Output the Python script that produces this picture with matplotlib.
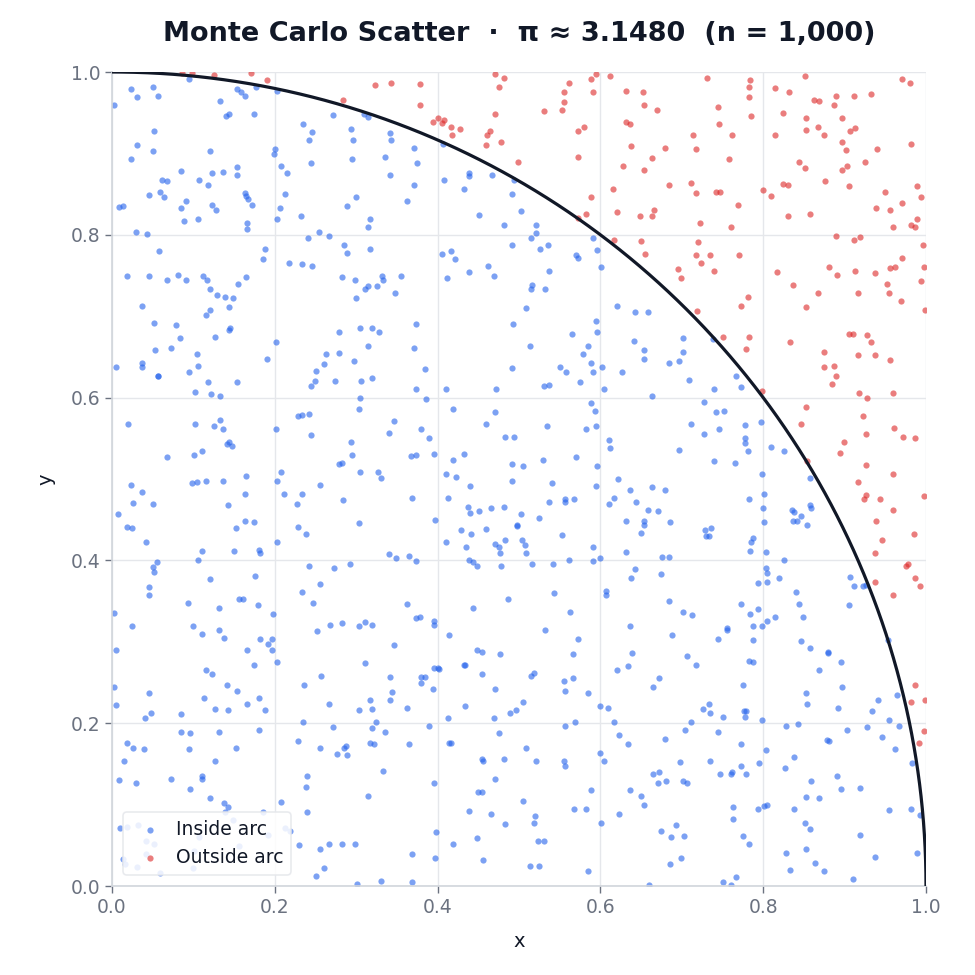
import numpy as np
import matplotlib
matplotlib.use("Agg")
import matplotlib.pyplot as plt

# title / labels
title_text = "Monte Carlo Scatter  \u00b7  \u03c0 \u2248 3.1480  (n = 1,000)"
label_in = "Inside arc"
label_out = "Outside arc"
ticks = [0.0, 0.2, 0.4, 0.6, 0.8, 1.0]

# samples, (x, y)
inside_pts = [
    # top band, y > 0.67
    (0.095,0.991),(0.023,0.979),(0.050,0.982),(0.031,0.969),(0.056,0.971),(0.002,0.959),(0.154,0.979),(0.158,0.976),
    (0.163,0.970),(0.177,0.981),(0.203,0.977),(0.133,0.964),(0.144,0.949),(0.140,0.946),(0.174,0.949),(0.272,0.947),
    (0.309,0.949),(0.314,0.945),(0.052,0.928),(0.235,0.936),(0.246,0.926),(0.242,0.917),(0.293,0.930),(0.296,0.916),
    (0.031,0.910),(0.050,0.903),(0.023,0.893),(0.120,0.903),(0.200,0.906),(0.199,0.899),(0.244,0.888),(0.295,0.893),
    (0.208,0.885),(0.215,0.876),(0.085,0.878),(0.123,0.876),(0.136,0.877),(0.154,0.883),(0.154,0.873),(0.107,0.867),
    (0.118,0.861),(0.062,0.867),(0.067,0.866),(0.059,0.853),(0.046,0.849),(0.064,0.846),(0.091,0.842),(0.085,0.833),
    (0.008,0.834),(0.013,0.835),(0.123,0.837),(0.128,0.830),(0.163,0.851),(0.165,0.848),(0.167,0.844),(0.172,0.837),
    (0.106,0.820),(0.089,0.817),(0.166,0.815),(0.166,0.807),(0.213,0.850),(0.206,0.833),(0.203,0.820),(0.232,0.823),
    (0.300,0.847),(0.289,0.835),(0.317,0.819),(0.315,0.809),(0.254,0.803),(0.267,0.798),(0.241,0.796),(0.030,0.803),
    (0.043,0.801),(0.058,0.780),(0.188,0.783),(0.186,0.770),(0.217,0.765),(0.234,0.764),(0.246,0.762),(0.285,0.787),
    (0.289,0.778),(0.317,0.782),(0.019,0.749),(0.046,0.750),(0.068,0.745),(0.081,0.751),(0.091,0.745),(0.112,0.750),
    (0.117,0.745),(0.120,0.733),(0.155,0.739),(0.165,0.748),(0.129,0.726),(0.139,0.724),(0.149,0.722),(0.121,0.708),
    (0.116,0.701),(0.144,0.711),(0.037,0.712),(0.051,0.692),(0.079,0.689),(0.145,0.686),(0.144,0.683),(0.084,0.673),
    (0.127,0.675),(0.282,0.748),(0.298,0.744),(0.311,0.734),(0.315,0.737),(0.326,0.737),(0.300,0.722),(0.279,0.681),
    (0.305,0.685),(0.320,0.686),(0.328,0.680),
    (0.341,0.925),(0.343,0.917),(0.371,0.907),(0.335,0.895),(0.375,0.888),(0.342,0.873),(0.371,0.861),(0.363,0.842),
    (0.407,0.912),(0.408,0.867),(0.439,0.876),(0.439,0.872),(0.467,0.874),(0.433,0.856),(0.494,0.867),(0.492,0.850),
    (0.502,0.829),(0.451,0.824),(0.481,0.812),(0.521,0.812),(0.521,0.802),(0.515,0.796),(0.492,0.787),(0.526,0.782),
    (0.536,0.787),(0.591,0.796),(0.596,0.781),(0.570,0.775),(0.573,0.771),(0.601,0.760),(0.406,0.777),(0.417,0.780),
    (0.421,0.770),(0.462,0.762),(0.439,0.754),(0.469,0.749),(0.412,0.747),(0.332,0.749),(0.333,0.744),(0.355,0.750),
    (0.348,0.728),(0.537,0.755),(0.516,0.738),(0.515,0.733),(0.532,0.734),(0.509,0.710),(0.493,0.690),(0.374,0.690),
    (0.565,0.678),(0.595,0.694),(0.596,0.680),(0.620,0.713),(0.642,0.705),(0.658,0.705),
    (0.701,0.673),(0.738,0.672),
    # middle band
    (0.201,0.668),(0.053,0.659),(0.073,0.661),(0.105,0.653),(0.005,0.638),(0.037,0.642),(0.037,0.637),(0.056,0.627),
    (0.057,0.626),(0.095,0.632),(0.106,0.639),(0.118,0.619),(0.154,0.619),(0.102,0.607),(0.122,0.604),(0.133,0.602),
    (0.191,0.647),(0.263,0.653),(0.279,0.655),(0.314,0.663),(0.297,0.645),(0.261,0.641),(0.250,0.633),(0.249,0.620),
    (0.245,0.614),(0.274,0.620),(0.306,0.620),(0.319,0.624),(0.305,0.599),(0.303,0.586),(0.020,0.568),(0.102,0.568),
    (0.125,0.565),(0.133,0.572),(0.136,0.562),(0.144,0.546),(0.141,0.543),(0.147,0.540),(0.110,0.534),(0.101,0.529),
    (0.068,0.527),(0.201,0.561),(0.229,0.578),(0.234,0.579),(0.242,0.580),(0.245,0.554),(0.294,0.545),(0.295,0.529),
    (0.279,0.519),(0.282,0.520),(0.305,0.508),(0.327,0.509),(0.023,0.493),(0.037,0.484),(0.026,0.470),(0.050,0.469),
    (0.007,0.457),(0.018,0.441),(0.024,0.440),(0.042,0.423),(0.098,0.495),(0.104,0.496),(0.116,0.498),(0.136,0.497),
    (0.165,0.504),(0.163,0.481),(0.143,0.468),(0.208,0.509),(0.203,0.497),(0.211,0.481),(0.233,0.481),(0.227,0.469),
    (0.255,0.493),(0.284,0.474),(0.303,0.446),(0.228,0.441),(0.238,0.432),(0.164,0.448),(0.174,0.447),(0.152,0.440),
    (0.203,0.423),(0.110,0.412),(0.106,0.401),(0.150,0.412),(0.180,0.413),(0.182,0.409),(0.055,0.398),(0.050,0.392),
    (0.052,0.386),(0.045,0.367),(0.045,0.358),(0.121,0.377),(0.176,0.381),(0.093,0.348),(0.131,0.342),(0.156,0.352),
    (0.161,0.352),(0.179,0.345),(0.242,0.393),(0.255,0.371),(0.234,0.361),(0.247,0.348),(0.273,0.391),(0.292,0.395),
    (0.371,0.661),(0.514,0.663),(0.585,0.663),(0.579,0.653),(0.588,0.643),(0.591,0.631),(0.602,0.637),(0.641,0.669),
    (0.654,0.658),(0.653,0.648),(0.627,0.631),(0.604,0.610),(0.575,0.619),(0.550,0.638),(0.558,0.632),(0.531,0.614),
    (0.537,0.615),(0.491,0.636),(0.472,0.610),(0.410,0.610),(0.384,0.635),(0.373,0.610),(0.386,0.598),(0.419,0.586),
    (0.470,0.582),(0.460,0.567),(0.483,0.552),(0.494,0.552),(0.534,0.565),(0.589,0.593),(0.593,0.584),(0.595,0.565),
    (0.582,0.561),(0.610,0.548),(0.612,0.538),(0.347,0.571),(0.340,0.557),(0.380,0.562),(0.389,0.550),(0.395,0.531),
    (0.367,0.528),(0.373,0.529),(0.331,0.501),(0.432,0.531),(0.419,0.523),(0.410,0.506),(0.422,0.503),(0.491,0.519),
    (0.505,0.516),(0.491,0.498),(0.530,0.523),(0.570,0.527),(0.596,0.516),(0.595,0.492),(0.540,0.495),(0.440,0.491),
    (0.368,0.477),(0.413,0.477),(0.537,0.472),(0.556,0.476),(0.556,0.472),(0.567,0.476),(0.622,0.500),(0.636,0.486),
    (0.617,0.477),(0.611,0.469),(0.644,0.472),(0.663,0.490),(0.659,0.462),(0.437,0.465),(0.440,0.458),(0.451,0.461),
    (0.466,0.464),(0.482,0.466),(0.502,0.457),(0.525,0.452),(0.497,0.443),(0.498,0.442),(0.397,0.450),(0.429,0.437),
    (0.441,0.432),(0.460,0.438),(0.410,0.422),(0.435,0.417),(0.471,0.420),(0.475,0.417),(0.483,0.425),(0.504,0.425),
    (0.507,0.419),(0.477,0.409),(0.508,0.409),(0.553,0.431),(0.591,0.417),(0.631,0.410),(0.654,0.449),(0.653,0.444),
    (0.650,0.434),(0.632,0.449),(0.340,0.408),(0.349,0.403),(0.365,0.405),(0.374,0.399),(0.438,0.400),(0.443,0.398),
    (0.449,0.393),(0.478,0.393),(0.516,0.396),(0.542,0.395),(0.561,0.400),(0.591,0.399),(0.599,0.403),(0.643,0.389),
    (0.637,0.378),(0.607,0.362),(0.607,0.357),(0.543,0.360),(0.487,0.353),(0.362,0.347),(0.444,0.342),(0.563,0.337),
    (0.701,0.656),(0.684,0.642),(0.697,0.645),(0.709,0.622),(0.739,0.610),(0.766,0.626),(0.773,0.613),(0.664,0.602),
    (0.727,0.594),(0.742,0.582),(0.752,0.583),(0.711,0.568),(0.727,0.555),(0.746,0.562),(0.778,0.566),(0.797,0.570),
    (0.778,0.550),(0.778,0.544),(0.781,0.535),(0.809,0.539),(0.826,0.535),(0.696,0.536),(0.740,0.522),(0.765,0.520),
    (0.799,0.506),(0.858,0.501),(0.679,0.486),(0.782,0.476),(0.801,0.482),(0.800,0.464),(0.671,0.461),(0.801,0.447),
    (0.686,0.447),(0.835,0.462),(0.838,0.460),(0.857,0.468),(0.859,0.464),(0.847,0.455),(0.837,0.448),(0.842,0.449),
    (0.854,0.444),(0.728,0.437),(0.736,0.440),(0.730,0.430),(0.733,0.430),(0.788,0.428),(0.785,0.423),(0.784,0.412),
    (0.803,0.410),(0.676,0.404),(0.684,0.404),(0.826,0.401),(0.803,0.391),(0.805,0.385),(0.675,0.383),(0.794,0.372),
    (0.805,0.373),(0.819,0.378),(0.907,0.379),(0.912,0.369),(0.922,0.369),(0.926,0.370),(0.840,0.361),(0.844,0.346),
    (0.684,0.350),(0.773,0.346),(0.794,0.340),(0.906,0.345),
    # bottom band
    (0.003,0.335),(0.198,0.334),(0.024,0.319),(0.100,0.320),(0.111,0.310),(0.132,0.315),(0.138,0.305),(0.182,0.303),
    (0.196,0.303),(0.192,0.297),(0.197,0.290),(0.166,0.290),(0.203,0.275),(0.174,0.272),(0.005,0.290),(0.115,0.265),
    (0.123,0.260),(0.141,0.247),(0.153,0.240),(0.003,0.245),(0.046,0.237),(0.005,0.222),(0.113,0.231),(0.126,0.218),
    (0.142,0.216),(0.166,0.224),(0.180,0.231),(0.188,0.216),(0.048,0.212),(0.041,0.206),(0.085,0.211),(0.252,0.313),
    (0.268,0.321),(0.282,0.323),(0.303,0.320),(0.311,0.324),(0.320,0.321),(0.311,0.274),(0.257,0.258),(0.236,0.247),
    (0.266,0.223),(0.303,0.216),(0.317,0.228),(0.319,0.217),(0.235,0.201),(0.272,0.195),(0.324,0.201),(0.319,0.194),
    (0.085,0.189),(0.096,0.188),(0.132,0.189),(0.180,0.192),(0.019,0.176),(0.026,0.170),(0.039,0.168),(0.095,0.168),
    (0.152,0.169),(0.015,0.154),(0.127,0.153),(0.228,0.178),(0.255,0.170),(0.276,0.162),(0.285,0.170),(0.288,0.172),
    (0.289,0.161),(0.317,0.176),(0.322,0.175),(0.008,0.130),(0.030,0.127),(0.073,0.131),(0.110,0.135),(0.111,0.132),
    (0.096,0.119),(0.120,0.108),(0.138,0.102),(0.142,0.097),(0.139,0.091),(0.185,0.091),(0.208,0.103),(0.239,0.135),
    (0.238,0.122),(0.240,0.091),(0.315,0.111),(0.010,0.071),(0.019,0.072),(0.032,0.075),(0.042,0.055),(0.052,0.051),
    (0.014,0.033),(0.016,0.027),(0.031,0.023),(0.042,0.039),(0.059,0.016),(0.100,0.022),(0.101,0.043),(0.107,0.060),
    (0.149,0.081),(0.156,0.049),(0.213,0.071),(0.192,0.063),(0.219,0.067),(0.230,0.050),(0.255,0.046),(0.267,0.052),
    (0.282,0.052),(0.298,0.051),(0.261,0.022),(0.250,0.012),(0.301,0.002),
    (0.374,0.329),(0.378,0.331),(0.396,0.326),(0.395,0.321),(0.532,0.314),(0.636,0.320),(0.347,0.296),(0.414,0.308),
    (0.573,0.304),(0.448,0.290),(0.454,0.288),(0.477,0.285),(0.566,0.285),(0.639,0.286),(0.433,0.271),(0.434,0.272),
    (0.396,0.268),(0.400,0.268),(0.402,0.266),(0.454,0.261),(0.515,0.258),(0.518,0.262),(0.555,0.252),(0.566,0.255),
    (0.557,0.240),(0.585,0.237),(0.621,0.265),(0.634,0.270),(0.342,0.257),(0.380,0.257),(0.385,0.257),(0.380,0.250),
    (0.344,0.238),(0.341,0.228),(0.363,0.219),(0.394,0.242),(0.470,0.242),(0.505,0.226),(0.496,0.216),(0.489,0.212),
    (0.434,0.221),(0.469,0.207),(0.413,0.206),(0.389,0.197),(0.335,0.189),(0.365,0.175),(0.475,0.188),(0.414,0.176),
    (0.417,0.176),(0.556,0.196),(0.569,0.202),(0.600,0.221),(0.609,0.219),(0.617,0.202),(0.623,0.185),(0.634,0.175),
    (0.509,0.169),(0.521,0.154),(0.555,0.153),(0.556,0.147),(0.600,0.163),(0.604,0.153),(0.482,0.156),(0.455,0.156),
    (0.456,0.154),(0.333,0.141),(0.395,0.127),(0.470,0.131),(0.450,0.116),(0.455,0.115),(0.505,0.104),(0.589,0.118),
    (0.636,0.118),(0.650,0.111),(0.653,0.100),(0.438,0.092),(0.466,0.089),(0.520,0.086),(0.519,0.078),(0.483,0.076),
    (0.568,0.095),(0.582,0.095),(0.623,0.088),(0.601,0.078),(0.398,0.066),(0.419,0.051),(0.449,0.059),(0.523,0.055),
    (0.531,0.055),(0.368,0.039),(0.397,0.035),(0.456,0.032),(0.514,0.024),(0.524,0.024),(0.585,0.018),(0.330,0.006),
    (0.368,0.005),(0.660,0.001),
    (0.701,0.336),(0.713,0.333),(0.784,0.334),(0.814,0.330),(0.849,0.331),(0.805,0.326),(0.798,0.320),(0.787,0.319),
    (0.755,0.317),(0.756,0.314),(0.688,0.308),(0.745,0.303),(0.788,0.302),(0.847,0.301),(0.858,0.292),(0.879,0.287),
    (0.880,0.286),(0.896,0.275),(0.869,0.265),(0.706,0.283),(0.717,0.271),(0.783,0.276),(0.788,0.275),(0.672,0.255),
    (0.665,0.244),(0.775,0.247),(0.852,0.237),(0.854,0.224),(0.897,0.245),(0.892,0.219),(0.734,0.224),(0.726,0.217),
    (0.735,0.213),(0.750,0.208),(0.776,0.215),(0.779,0.215),(0.778,0.208),(0.799,0.204),(0.941,0.229),(0.934,0.215),
    (0.964,0.235),(0.954,0.204),(0.967,0.196),(0.953,0.302),(0.711,0.201),(0.704,0.192),(0.679,0.181),(0.744,0.189),
    (0.773,0.175),(0.828,0.197),(0.843,0.199),(0.903,0.192),(0.928,0.195),(0.946,0.183),(0.962,0.168),(0.983,0.151),
    (0.878,0.179),(0.881,0.178),(0.803,0.167),(0.838,0.158),(0.827,0.145),(0.795,0.151),(0.773,0.147),(0.779,0.138),
    (0.735,0.153),(0.698,0.152),(0.665,0.138),(0.672,0.140),(0.671,0.126),(0.681,0.129),(0.702,0.129),(0.706,0.127),
    (0.747,0.137),(0.760,0.138),(0.762,0.140),(0.859,0.129),(0.891,0.135),(0.895,0.119),(0.919,0.120),(0.853,0.109),
    (0.868,0.108),(0.838,0.094),(0.793,0.094),(0.801,0.098),(0.805,0.099),(0.763,0.097),(0.763,0.082),(0.954,0.093),
    (0.981,0.094),(0.993,0.087),(0.693,0.075),(0.674,0.067),(0.687,0.060),(0.703,0.061),(0.775,0.062),(0.783,0.051),
    (0.851,0.077),(0.858,0.070),(0.919,0.063),(0.828,0.040),(0.852,0.045),(0.937,0.036),(0.989,0.040),(0.699,0.035),
    (0.686,0.027),(0.833,0.020),(0.864,0.028),(0.875,0.018),(0.910,0.008),(0.751,0.005),(0.766,0.011),(0.760,0.001),
]

outside_pts = [
    (0.086,0.999),(0.098,0.999),(0.125,0.996),(0.171,0.999),(0.190,0.990),(0.284,0.965),(0.323,0.984),
    (0.343,0.987),(0.378,0.985),(0.378,0.959),(0.471,0.998),(0.481,0.993),(0.475,0.981),(0.471,0.948),(0.401,0.943),
    (0.394,0.938),(0.405,0.937),(0.408,0.941),(0.417,0.933),(0.427,0.930),(0.418,0.923),(0.464,0.927),(0.461,0.922),
    (0.460,0.910),(0.478,0.914),(0.499,0.890),(0.531,0.952),(0.555,0.976),(0.562,0.986),(0.555,0.963),(0.553,0.953),
    (0.589,0.992),(0.595,0.997),(0.591,0.976),(0.612,0.995),(0.572,0.927),(0.580,0.933),(0.573,0.896),(0.588,0.847),
    (0.582,0.826),(0.573,0.821),(0.631,0.977),(0.652,0.976),(0.654,0.960),(0.632,0.939),(0.636,0.936),(0.638,0.909),
    (0.628,0.885),(0.654,0.879),(0.615,0.856),(0.621,0.828),(0.649,0.823),(0.617,0.794),(0.650,0.792),(0.655,0.776),
    (0.663,0.823),
    (0.731,0.993),(0.784,0.990),(0.783,0.982),(0.782,0.969),(0.785,0.946),(0.669,0.953),(0.744,0.957),(0.746,0.936),
    (0.714,0.923),(0.762,0.922),(0.679,0.907),(0.718,0.906),(0.664,0.894),(0.758,0.893),(0.684,0.861),(0.711,0.864),
    (0.718,0.851),(0.742,0.852),(0.747,0.852),(0.769,0.836),(0.666,0.830),(0.722,0.814),(0.761,0.810),(0.800,0.855),
    (0.809,0.848),(0.851,0.995),(0.815,0.980),(0.832,0.975),(0.862,0.965),(0.868,0.964),(0.889,0.970),(0.887,0.960),
    (0.912,0.971),(0.932,0.973),(0.971,0.992),(0.980,0.986),(0.824,0.950),(0.853,0.944),(0.897,0.943),(0.852,0.929),
    (0.867,0.933),(0.875,0.922),(0.815,0.923),(0.907,0.927),(0.913,0.931),(0.897,0.914),(0.902,0.904),(0.940,0.906),
    (0.981,0.912),(0.844,0.890),(0.851,0.882),(0.903,0.884),(0.897,0.879),(0.925,0.890),(0.876,0.866),(0.824,0.862),
    (0.830,0.861),(0.905,0.860),(0.950,0.852),(0.989,0.860),(0.994,0.846),(0.970,0.839),(0.939,0.833),(0.956,0.830),
    (0.831,0.823),(0.858,0.826),(0.989,0.820),(0.982,0.812),(0.986,0.810),(0.960,0.810),(0.889,0.798),(0.911,0.793),
    (0.919,0.797),(0.996,0.788),(0.720,0.791),(0.718,0.775),(0.735,0.775),(0.723,0.765),(0.770,0.775),(0.695,0.758),
    (0.699,0.747),(0.740,0.755),(0.781,0.723),(0.773,0.712),(0.719,0.706),(0.751,0.674),(0.782,0.675),(0.817,0.754),
    (0.881,0.760),(0.891,0.751),(0.913,0.756),(0.937,0.753),(0.956,0.759),(0.962,0.760),(0.971,0.772),(0.998,0.760),
    (0.994,0.743),(0.952,0.740),(0.954,0.729),(0.837,0.738),(0.867,0.729),(0.916,0.728),(0.969,0.719),(0.853,0.711),
    (0.999,0.708),(0.905,0.678),(0.910,0.678),(0.928,0.677),
    (0.779,0.660),(0.833,0.668),(0.875,0.656),(0.875,0.638),(0.887,0.639),(0.890,0.626),(0.885,0.617),(0.917,0.652),
    (0.937,0.652),(0.932,0.668),(0.956,0.646),(0.918,0.606),(0.928,0.600),(0.960,0.606),(0.798,0.608),(0.852,0.589),
    (0.846,0.568),(0.922,0.577),(0.926,0.555),(0.961,0.563),(0.972,0.551),(0.986,0.550),(0.899,0.546),(0.894,0.532),
    (0.854,0.522),(0.926,0.517),(0.960,0.506),(0.917,0.496),(0.926,0.480),(0.924,0.475),(0.943,0.475),(0.997,0.479),
    (0.960,0.462),(0.938,0.449),(0.985,0.432),(0.946,0.425),(0.937,0.409),(0.976,0.393),(0.978,0.395),(0.986,0.378),
    (0.993,0.368),(0.937,0.374),(0.959,0.358),
    (0.986,0.247),(0.981,0.226),(0.999,0.228),(0.998,0.190),(0.991,0.176),
]

inside = np.array(inside_pts)
outside = np.array(outside_pts)

c_in = "#2563eb"
c_out = "#dc2626"
dark = "#111827"
muted = "#6b7280"
grid_c = "#e5e7eb"

fig = plt.figure(figsize=(9.75, 9.75), dpi=100)
ax = fig.add_axes([112 / 975, 89 / 975, 814 / 975, 814 / 975])

ax.scatter(inside[:, 0], inside[:, 1], s=20, color=c_in, alpha=0.6, linewidths=0, label=label_in, zorder=2)
ax.scatter(outside[:, 0], outside[:, 1], s=20, color=c_out, alpha=0.6, linewidths=0, label=label_out, zorder=2)

# quarter circle boundary
theta = np.linspace(0, np.pi / 2, 400)
ax.plot(np.cos(theta), np.sin(theta), color=dark, lw=2.3, zorder=3)

ax.set_xlim(0, 1)
ax.set_ylim(0, 1)
ax.set_xticks(ticks)
ax.set_yticks(ticks)
ax.grid(True, color=grid_c, lw=1.0, zorder=0)
ax.set_axisbelow(True)

for side in ["top", "right"]:
    ax.spines[side].set_visible(False)
for side in ["left", "bottom"]:
    ax.spines[side].set_color("#d1d5db")
    ax.spines[side].set_linewidth(1.2)

ax.tick_params(colors=muted, labelsize=13.5, length=5, width=1)
ax.set_xlabel("x", fontsize=14, color=dark, labelpad=11)
ax.set_ylabel("y", fontsize=14, color=dark, labelpad=11)
ax.set_title(title_text, fontsize=19.5, fontweight="bold", color=dark, pad=22)

leg = ax.legend(loc="lower left", fontsize=13.5, frameon=True, framealpha=0.85,
                edgecolor=grid_c, labelcolor=dark, borderaxespad=0.6, handletextpad=0.4)
leg.get_frame().set_linewidth(1.2)

fig.savefig("out.png", dpi=100)
